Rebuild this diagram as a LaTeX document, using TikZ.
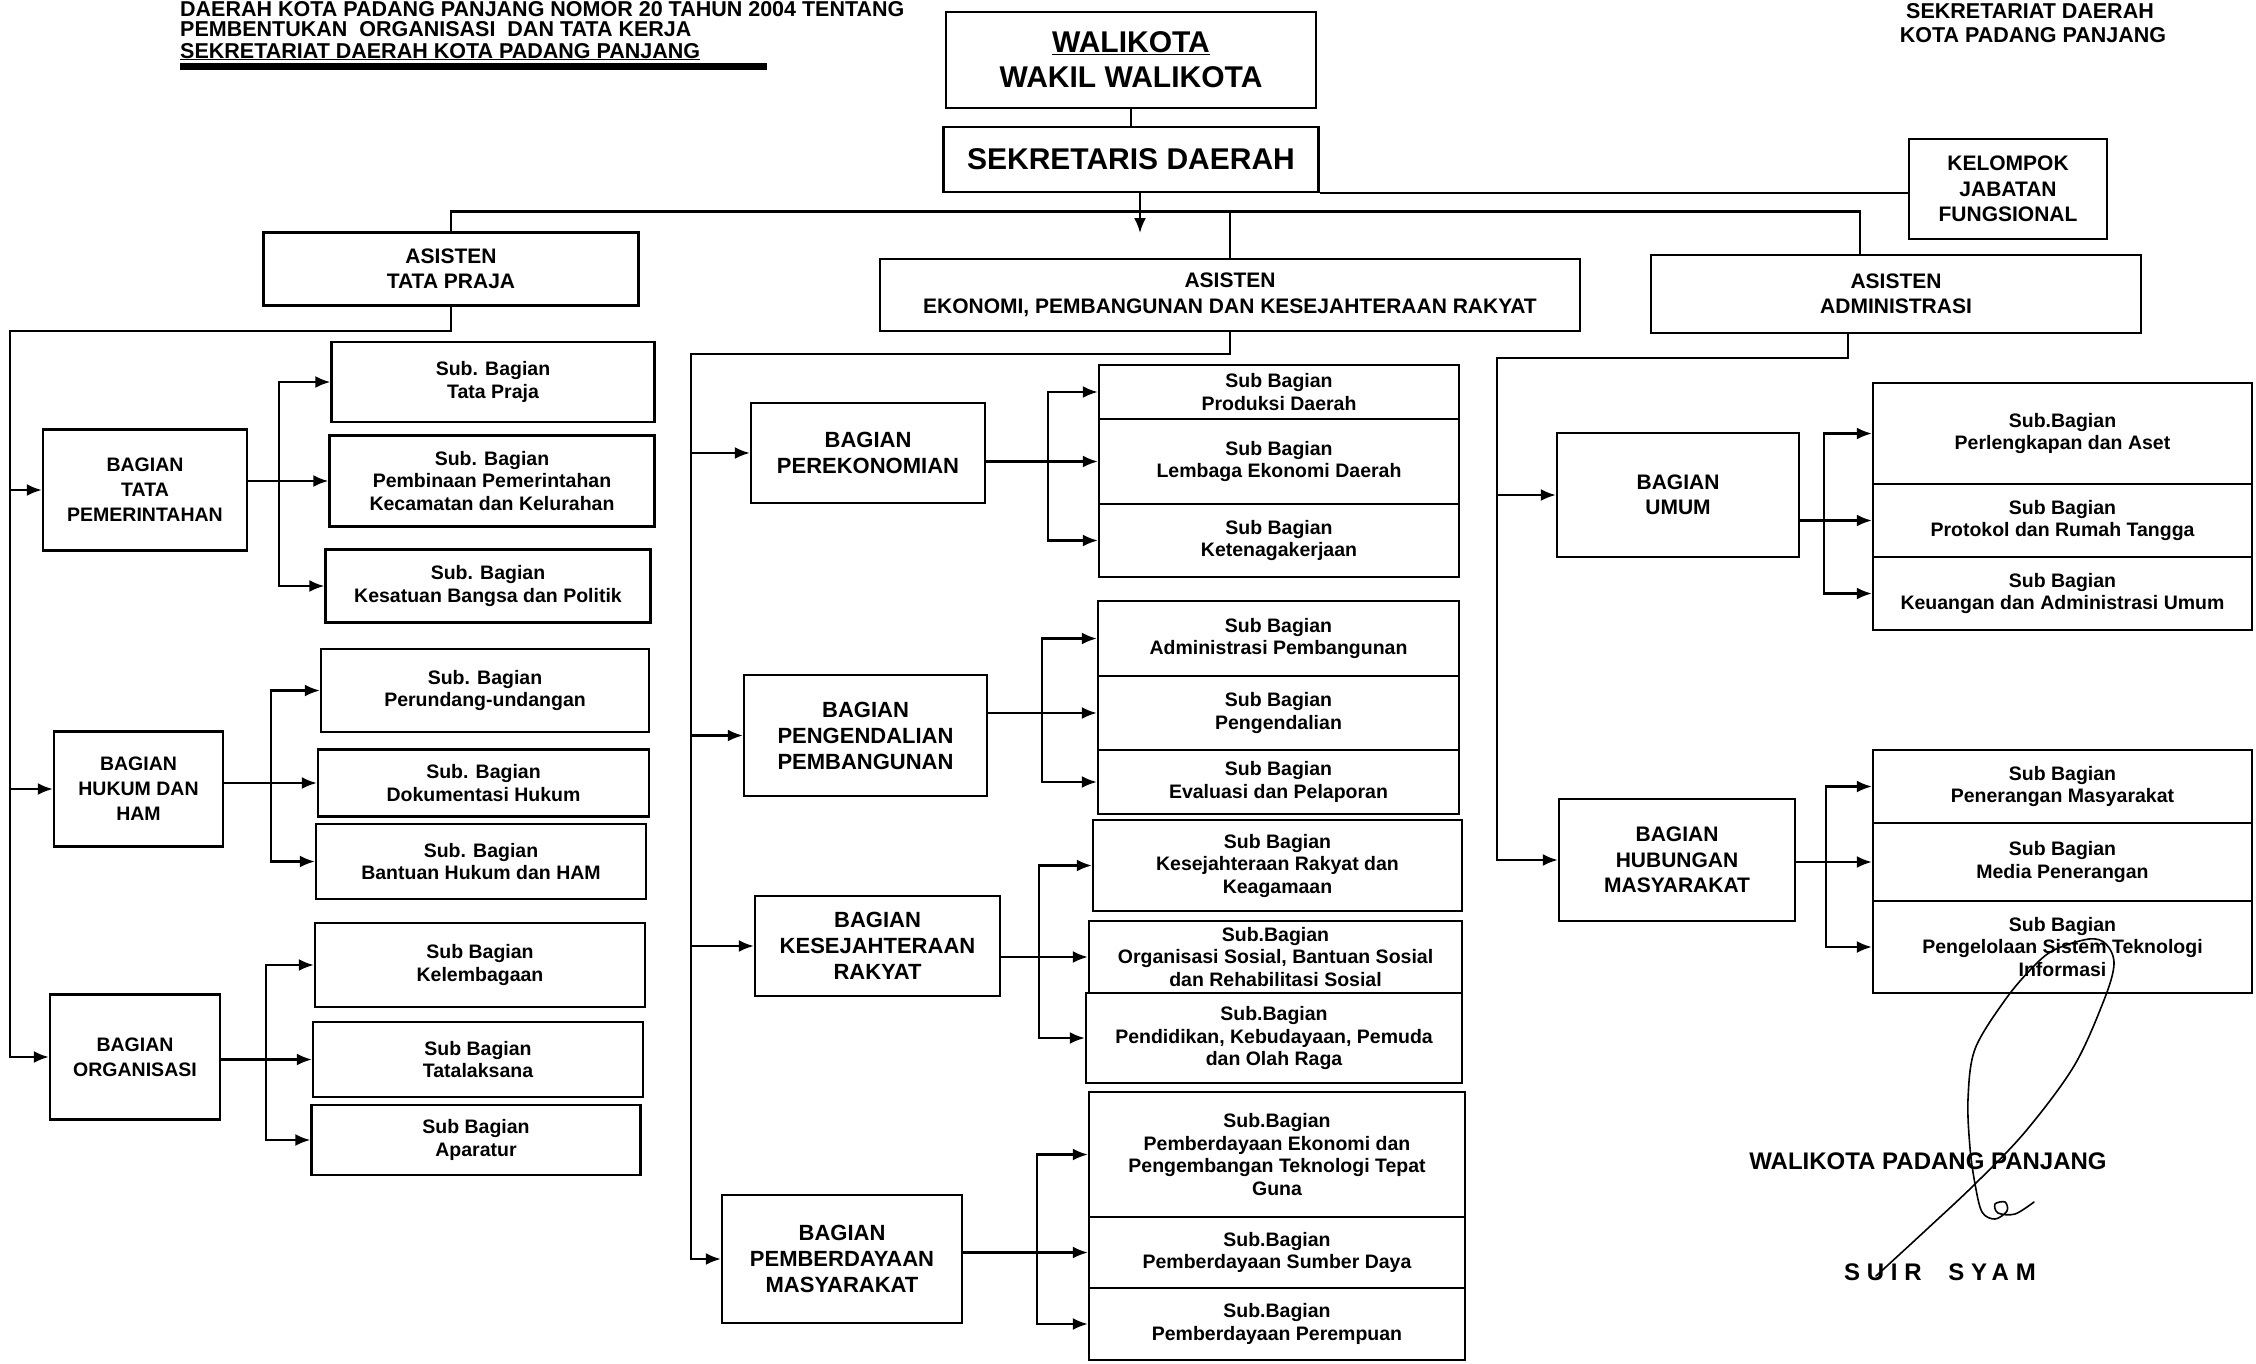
\documentclass[tikz,border=0pt]{standalone}
\usepackage{fontspec}
\setmainfont{Liberation Sans}
\newfontfamily\spacedfont[LetterSpace=28]{Liberation Sans}
\usetikzlibrary{arrows.meta}

\begin{document}
\begin{tikzpicture}[x=1pt, y=-1pt,
    box/.style 2 args={draw, line width=2.4pt, align=center, inner sep=2pt,
      minimum width=#1pt, minimum height=#2pt},
    sub/.style 2 args={box={#1}{#2}, fill=white, font=\fontsize{19.5}{22.5}\selectfont\bfseries},
    bag/.style 2 args={box={#1}{#2}, font=\fontsize{21}{25.5}\selectfont\bfseries},
    ln/.style={line width=2.2pt},
    arr/.style={ln, -{Latex[length=15pt, width=12pt]}},
    head/.style={font=\fontsize{21.5}{25}\selectfont\bfseries, inner sep=0pt}
  ]
  \useasboundingbox (0,0) rectangle (2256,1363);

  % heading
  \node[head, anchor=base west] (tl1) at (180,16) {DAERAH KOTA PADANG PANJANG NOMOR 20 TAHUN 2004 TENTANG};
  \node[head, anchor=base west] (tl2) at (180,36) {PEMBENTUKAN\ \ ORGANISASI\ \ DAN TATA KERJA};
  \node[head, anchor=base west] (tl3) at (180,58) {\underline{SEKRETARIAT DAERAH KOTA PADANG PANJANG}};
  \fill (180,62.5) rectangle (767,69.5);
  \node[head, anchor=base] (tr1) at (2030,18) {SEKRETARIAT DAERAH};
  \node[head, anchor=base] (tr2) at (2033,42) {KOTA PADANG PANJANG};

  % top
  \node[box={370}{96}, font=\fontsize{30}{35}\selectfont\bfseries] (wk) at (1131,60) {\underline{WALIKOTA}\\WAKIL WALIKOTA};
  \node[box={375}{65}, font=\fontsize{30}{35}\selectfont\bfseries] (sd) at (1131,159.5) {SEKRETARIS DAERAH};
  \node[bag={198}{100}] (kj) at (2008,189) {KELOMPOK\\JABATAN\\FUNGSIONAL};

  % asisten
  \node[bag={375}{73}] (atp) at (451,269) {ASISTEN\\TATA PRAJA};
  \node[bag={700}{72}] (aek) at (1230,295) {ASISTEN\\EKONOMI, PEMBANGUNAN DAN KESEJAHTERAAN RAKYAT};
  \node[bag={490}{78}] (aad) at (1896,294) {ASISTEN\\ADMINISTRASI};

  % bagian
  \node[bag={204}{121}, font=\fontsize{19.5}{25}\selectfont\bfseries] (btp) at (145,490) {BAGIAN\\TATA\\PEMERINTAHAN};
  \node[bag={169}{115}, font=\fontsize{19.5}{25}\selectfont\bfseries] (bhh) at (138.5,789) {BAGIAN\\HUKUM DAN\\HAM};
  \node[bag={170}{125}, font=\fontsize{19.5}{25}\selectfont\bfseries] (bo) at (135,1057) {BAGIAN\\ORGANISASI};
  \node[bag={234}{100}, font=\fontsize{22}{26}\selectfont\bfseries] (bp) at (868,453) {BAGIAN\\PEREKONOMIAN};
  \node[bag={243}{121}, font=\fontsize{22}{26}\selectfont\bfseries] (bpp) at (865.5,735.5) {BAGIAN\\PENGENDALIAN\\PEMBANGUNAN};
  \node[bag={245}{100}, font=\fontsize{22}{26}\selectfont\bfseries] (bkr) at (877.5,946) {BAGIAN\\KESEJAHTERAAN\\RAKYAT};
  \node[bag={240}{128}, font=\fontsize{22}{26}\selectfont\bfseries] (bpm) at (842,1259) {BAGIAN\\PEMBERDAYAAN\\MASYARAKAT};
  \node[bag={242}{124}] (bu) at (1678,495) {BAGIAN\\UMUM};
  \node[bag={236}{122}] (bhm) at (1677,860) {BAGIAN\\HUBUNGAN\\MASYARAKAT};

  % sub bagian, tata praja
  \node[sub={323}{80}] (st1) at (493,382) {Sub. Bagian\\Tata Praja};
  \node[sub={325}{91}] (st2) at (492,481) {Sub. Bagian\\Pembinaan Pemerintahan\\Kecamatan dan Kelurahan};
  \node[sub={325}{73}] (st3) at (488,586) {Sub. Bagian\\Kesatuan Bangsa dan Politik};
  \node[sub={328}{83}] (sh1) at (485,690.5) {Sub. Bagian\\Perundang-undangan};
  \node[sub={331}{67}] (sh2) at (483.5,783) {Sub. Bagian\\Dokumentasi Hukum};
  \node[sub={330}{75}] (sh3) at (481,861.5) {Sub. Bagian\\Bantuan Hukum dan HAM};
  \node[sub={330}{84}] (so1) at (480,965) {Sub Bagian\\Kelembagaan};
  \node[sub={330}{75}] (so2) at (478,1059.5) {Sub Bagian\\Tatalaksana};
  \node[sub={329}{70}] (so3) at (476,1140) {Sub Bagian\\Aparatur};

  % sub bagian, ekonomi
  \node[sub={360}{54}] (sp1) at (1279,392) {Sub Bagian\\Produksi Daerah};
  \node[sub={360}{85}] (sp2) at (1279,461.5) {Sub Bagian\\Lembaga Ekonomi Daerah};
  \node[sub={360}{73}] (sp3) at (1279,540.5) {Sub Bagian\\Ketenagakerjaan};
  \node[sub={361}{75}] (sd1) at (1278.5,638.5) {Sub Bagian\\Administrasi Pembangunan};
  \node[sub={361}{74}] (sd2) at (1278.5,713) {Sub Bagian\\Pengendalian};
  \node[sub={361}{64}] (sd3) at (1278.5,782) {Sub Bagian\\Evaluasi dan Pelaporan};
  \node[sub={369}{91}] (sk1) at (1277.5,865.5) {Sub Bagian\\Kesejahteraan Rakyat dan\\Keagamaan};
  \node[sub={373}{72}] (sk2) at (1275.5,957) {Sub.Bagian\\Organisasi Sosial, Bantuan Sosial\\dan Rehabilitasi Sosial};
  \node[sub={376}{90}] (sk3) at (1274,1038) {Sub.Bagian\\Pendidikan, Kebudayaan, Pemuda\\dan Olah Raga};
  \node[sub={376}{125}] (sm1) at (1277,1154.5) {Sub.Bagian\\Pemberdayaan Ekonomi dan\\Pengembangan Teknologi Tepat\\Guna};
  \node[sub={376}{71}] (sm2) at (1277,1252.5) {Sub.Bagian\\Pemberdayaan Sumber Daya};
  \node[sub={376}{72}] (sm3) at (1277,1324) {Sub.Bagian\\Pemberdayaan Perempuan};

  % sub bagian, administrasi
  \node[sub={379}{101}] (su1) at (2062.5,433.5) {Sub.Bagian\\Perlengkapan dan Aset};
  \node[sub={379}{73}] (su2) at (2062.5,520.5) {Sub Bagian\\Protokol dan Rumah Tangga};
  \node[sub={379}{73}] (su3) at (2062.5,593.5) {Sub Bagian\\Keuangan dan Administrasi Umum};
  \node[sub={379}{73}] (sr1) at (2062.5,786.5) {Sub Bagian\\Penerangan Masyarakat};
  \node[sub={379}{78}] (sr2) at (2062.5,862) {Sub Bagian\\Media Penerangan};
  \node[sub={379}{92}] (sr3) at (2062.5,947) {Sub Bagian\\Pengelolaan Sistem Teknologi\\Informasi};

  % connectors
  \coordinate (lt) at (10,331);
  \coordinate (mt) at (690.6,354);
  \coordinate (rt) at (1497,358);
  \coordinate (bus) at (0,211.5);
  \coordinate (sdend) at (1140,233);

  \draw[ln] (wk.south) -- (sd.north);
  \draw[ln] (sd.south east) -- (sd.south east -| kj.west);
  \draw[arr] (sd.south -| sdend) -- (sdend);
  \draw[ln] (atp.north) |- ([xshift=-36pt]aad.north |- bus) -- ([xshift=-36pt]aad.north);
  \draw[ln] (aek.north |- bus) -- (aek.north);

  \draw[arr] (atp.south) |- (lt) |- (bo.west);
  \draw[arr] (lt |- btp.west) -- (btp.west);
  \draw[arr] (lt |- bhh.west) -- (bhh.west);

  \draw[arr] (aek.south) |- (mt) |- (bpm.west);
  \draw[arr] (mt |- bp.west) -- (bp.west);
  \draw[arr] (mt |- bpp.west) -- (bpp.west);
  \draw[arr] (mt |- bkr.west) -- (bkr.west);

  \draw[arr] ([xshift=-48pt]aad.south) |- (rt) |- (bhm.west);
  \draw[arr] (rt |- bu.west) -- (bu.west);

  \foreach \b/\f/\p/\q/\r in {btp/279/st1/st2/st3, bhh/271/sh1/sh2/sh3, bo/266/so1/so2/so3,
      bp/1048/sp1/sp2/sp3, bpp/1042/sd1/sd2/sd3, bkr/1039/sk1/sk2/sk3, bpm/1037/sm1/sm2/sm3,
      bu/1824/su1/su2/su3, bhm/1826/sr1/sr2/sr3}{
    \coordinate (fk) at (\f,0);
    \draw[arr] (\b.east |- \q.west) -- (\q.west);
    \draw[arr] (fk |- \q.west) |- (\p.west);
    \draw[arr] (fk |- \q.west) |- (\r.west);
  }

  % signature
  \node[font=\fontsize{24}{28}\selectfont\bfseries] (wpp) at (1928,1161) {WALIKOTA PADANG PANJANG};
  \node[font=\fontsize{24}{28}\selectfont\bfseries\spacedfont] (sy) at (1940,1272) {SUIR\ \ SYAM};
  \draw[line width=1.6pt, line cap=round] plot[smooth, tension=0.55] coordinates {
    (1876,1276) (1926,1230) (1975,1184) (2025,1132) (2074,1066) (2104,1000)
    (2114,964) (2106,944) (2089,939) (2054,950) (2032,968) (2005,1000)
    (1975,1049) (1968,1099) (1970,1148) (1975,1184) (1982,1212) (1995,1219)
    (2007,1211) (2005,1202) (1995,1204) (1998,1213) (2015,1214) (2034,1202)};
\end{tikzpicture}
\end{document}
